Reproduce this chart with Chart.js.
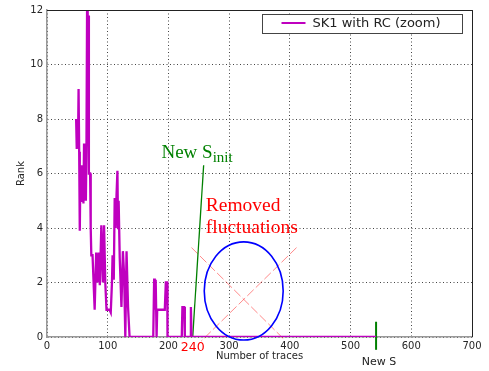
<!DOCTYPE html>
<html>
<head>
<meta charset="utf-8">
<script src="https://cdn.jsdelivr.net/npm/chart.js@4.4.0/dist/chart.umd.min.js"></script>
<style>
  html, body { margin: 0; padding: 0; background: #fff; }
</style>
</head>
<body>
<canvas id="rank-chart" width="489" height="371"></canvas>
<script>
// Rank of the correct key vs number of traces (SK1 with RC, zoomed)
const traces = [48, 49, 50, 51, 52, 53, 54, 55, 56, 57, 58, 59, 60, 61, 62, 63, 64, 65, 66, 67, 68, 69,
    70, 71, 72, 73, 75, 78.5, 81, 83, 85, 87, 89.5, 92, 94, 96, 98, 103, 105, 107, 108, 110, 111.5,
    113, 114.5, 116, 117, 118, 119.8, 122.6, 125, 127, 129, 131, 133.5, 136, 175, 176.5, 177.5, 179,
    180.5, 181.5, 194, 195.7, 198, 198.5, 222, 223, 226, 227, 236, 237, 238, 542];
const ranks = [8.0, 6.9, 7.2, 7.0, 9.1, 6.8, 3.9, 6.1, 5.0, 6.3, 5.0, 5.8, 4.9, 7.1, 5.0, 6.2, 5.0, 7.0, 12.0, 10.5, 11.8, 6.0,
    6.0, 6.0, 4.0, 3.0, 3.0, 1.0, 3.1, 2.0, 3.1, 1.9, 4.1, 2.0, 4.1, 2.0, 1.0, 1.0, 0.9, 2.0, 3.0, 2.1, 5.1,
    4.0, 5.2, 6.1, 4.0, 5.0, 2.9, 1.1, 3.15, 2.3, 0.0, 3.15, 1.1, 0.0, 0.0, 2.15, 1.0, 2.1,
    0.0, 1.0, 1.0, 2.0, 2.0, 0.0, 0.0, 1.1, 1.1, 0.0, 0.0, 1.1, 0.0, 0.0];

const xTicks = [0, 100, 200, 300, 400, 500, 600, 700];
const yTicks = [0, 2, 4, 6, 8, 10, 12];
const markedTrace = 240;

// S_init marker and the new S marker
const sInitTraces = [240, 258];
const sInitRanks = [0, 6.3];
const newSTraces = [542, 542];
const newSRanks = [-0.47, 0.56];

// removed fluctuations: crossed-out ellipse
const crossATraces = [238, 392];
const crossARanks = [3.28, -0.12];
const crossBTraces = [411, 254];
const crossBRanks = [3.28, -0.15];
const removedCenter = [324, 1.69];
const removedRadii = [65, 1.8];

const MAGENTA = '#bf00bf';
const GREEN = '#008000';

function pairs(xs, ys) {
    return xs.map((x, i) => ({ x, y: ys[i] }));
}

const annotationPlugin = {
    id: 'rankAnnotations',
    afterDatasetsDraw(chart) {
        const { ctx, chartArea: a, scales: { x, y } } = chart;
        ctx.save();

        // ellipse around the removed fluctuations
        const cx = x.getPixelForValue(removedCenter[0]);
        const cy = y.getPixelForValue(removedCenter[1]);
        const rx = x.getPixelForValue(removedCenter[0] + removedRadii[0]) - cx;
        const ry = cy - y.getPixelForValue(removedCenter[1] + removedRadii[1]);
        ctx.beginPath();
        ctx.ellipse(cx, cy, rx, ry, 0, 0, Math.PI * 2);
        ctx.strokeStyle = '#0000ff';
        ctx.lineWidth = 1.6;
        ctx.stroke();

        // top / right frame
        ctx.strokeStyle = '#222';
        ctx.lineWidth = 1;
        ctx.beginPath();
        ctx.moveTo(a.left, a.top + 0.5);
        ctx.lineTo(a.right + 0.5, a.top + 0.5);
        ctx.lineTo(a.right + 0.5, a.bottom);
        ctx.stroke();

        // New S_init label
        ctx.fillStyle = GREEN;
        ctx.textBaseline = 'alphabetic';
        ctx.font = '19px "Liberation Serif"';
        const sx = x.getPixelForValue(188.5);
        const sy = y.getPixelForValue(6.56);
        ctx.fillText('New S', sx, sy);
        const w = ctx.measureText('New S').width;
        ctx.font = '15px "Liberation Serif"';
        ctx.fillText('init', sx + w, sy + 4);

        // Removed fluctuations label
        ctx.fillStyle = '#ff0000';
        ctx.font = '19.5px "Liberation Serif"';
        const rx0 = x.getPixelForValue(261.5);
        ctx.fillText('Removed', rx0, y.getPixelForValue(4.62));
        ctx.fillText('fluctuations', rx0, y.getPixelForValue(3.83));

        // New S label below the axis
        ctx.fillStyle = '#222';
        ctx.font = '11px "DejaVu Sans"';
        ctx.textAlign = 'center';
        ctx.fillText('New S', x.getPixelForValue(newSTraces[0]) + 3, 365);

        // legend box
        const lx = 262.5, ly = 14.5, lw = 200, lh = 19;
        ctx.fillStyle = '#fff';
        ctx.fillRect(lx, ly, lw, lh);
        ctx.strokeStyle = '#444';
        ctx.lineWidth = 1;
        ctx.strokeRect(lx, ly, lw, lh);
        ctx.strokeStyle = MAGENTA;
        ctx.lineWidth = 2;
        ctx.beginPath();
        ctx.moveTo(lx + 19, ly + 8.5);
        ctx.lineTo(lx + 43, ly + 8.5);
        ctx.stroke();
        ctx.fillStyle = '#222';
        ctx.textAlign = 'left';
        ctx.textBaseline = 'middle';
        ctx.font = '13px "DejaVu Sans"';
        ctx.fillText('SK1 with RC (zoom)', lx + 50, ly + 9);

        ctx.restore();
    }
};

const chartConfig = {
    type: 'scatter',
    data: {
        datasets: [
            {
                label: 'SK1 with RC (zoom)',
                data: pairs(traces, ranks),
                showLine: true,
                borderColor: MAGENTA,
                borderWidth: 2.3,
                pointRadius: 0,
                tension: 0
            },
            {
                label: 'New S_init',
                data: pairs(sInitTraces, sInitRanks),
                showLine: true,
                borderColor: GREEN,
                borderWidth: 1.3,
                pointRadius: 0
            },
            {
                label: 'New S',
                data: pairs(newSTraces, newSRanks),
                showLine: true,
                borderColor: GREEN,
                borderWidth: 2,
                pointRadius: 0,
                clip: false
            },
            {
                label: 'cross A',
                data: pairs(crossATraces, crossARanks),
                showLine: true,
                borderColor: 'rgba(255, 60, 60, 0.6)',
                borderWidth: 1,
                borderDash: [9, 3],
                pointRadius: 0,
                clip: false
            },
            {
                label: 'cross B',
                data: pairs(crossBTraces, crossBRanks),
                showLine: true,
                borderColor: 'rgba(255, 60, 60, 0.6)',
                borderWidth: 1,
                borderDash: [9, 3],
                pointRadius: 0,
                clip: false
            }
        ]
    },
    options: {
        responsive: false,
        animation: false,
        layout: { padding: { top: 7, right: 17, left: 0, bottom: 0 } },
        plugins: {
            legend: { display: false },
            tooltip: { enabled: false }
        },
        scales: {
            x: {
                type: 'linear',
                min: 0,
                max: 700,
                afterBuildTicks: scale => {
                    scale.ticks = xTicks.concat([markedTrace]).sort((a, b) => a - b).map(v => ({ value: v }));
                },
                afterFit: scale => { scale.height = 34; },
                ticks: {
                    autoSkip: false,
                    maxRotation: 0,
                    padding: 3,
                    color: ctx => ctx.tick && ctx.tick.value === markedTrace ? '#ff0000' : '#262626',
                    font: ctx => ctx.tick && ctx.tick.value === markedTrace
                        ? { family: 'DejaVu Sans', size: 12.5 }
                        : { family: 'DejaVu Sans', size: 10 }
                },
                grid: {
                    drawTicks: false,
                    color: ctx => ctx.tick && ctx.tick.value === markedTrace ? 'rgba(0,0,0,0)' : '#444',
                    lineWidth: 1
                },
                border: { color: '#999', width: 1.5, dash: [1, 2.5] },
                title: {
                    display: true,
                    text: 'Number of traces',
                    color: '#262626',
                    font: { family: 'DejaVu Sans', size: 10 },
                    padding: { top: 0, bottom: 9 }
                }
            },
            y: {
                type: 'linear',
                min: 0,
                max: 12,
                afterBuildTicks: scale => {
                    scale.ticks = yTicks.map(v => ({ value: v }));
                },
                afterFit: scale => { scale.width = 47; },
                ticks: {
                    padding: 4,
                    color: '#262626',
                    font: { family: 'DejaVu Sans', size: 10 }
                },
                grid: {
                    drawTicks: false,
                    color: '#444',
                    lineWidth: 1
                },
                border: { color: '#999', width: 1.5, dash: [1, 2.5] },
                title: {
                    display: true,
                    text: 'Rank',
                    color: '#262626',
                    font: { family: 'DejaVu Sans', size: 10 },
                    padding: { top: 15, bottom: 0 }
                }
            }
        }
    },
    plugins: [annotationPlugin]
};

new Chart(document.getElementById('rank-chart').getContext('2d'), chartConfig);
</script>
</body>
</html>
